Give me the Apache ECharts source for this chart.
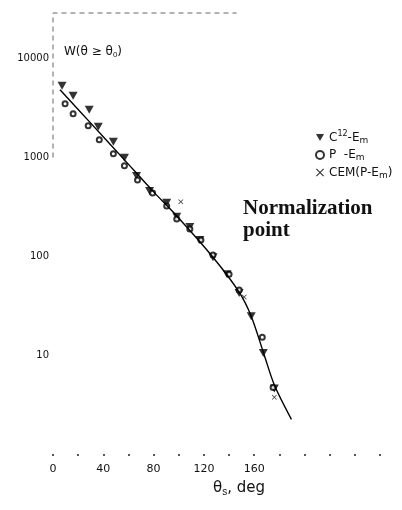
<!DOCTYPE html>
<html>
<head>
<meta charset="utf-8">
<script src="https://cdn.jsdelivr.net/npm/echarts@6/dist/echarts.min.js"></script>
<style>
  html, body { margin: 0; padding: 0; background: #fff; }
  #echarts { width: 402px; height: 510px; }
</style>
</head>
<body>
<div id="echarts"></div>
<script>
// data: [theta deg, W]
var c12Em = [[7.2,5320],[16,4220],[28.8,3040],[36,2050],[48,1440],[56.8,993],[66.4,652],[76.8,459],
    [90.4,348],[98.4,251],[108.8,198],[116.8,146],[127.2,98],[138.4,66],[148,42.5],[157.6,24.8],[167.2,10.5],[176,4.6]];
var pEm = [[9.6,3500],[16,2770],[28,2100],[36.8,1510],[48,1090],[56.8,824],[67.2,594],[79.2,438],
    [90.4,324],[98.4,239],[108.8,189],[117.6,146],[127.2,103],[140,66],[148,45.6],[166.4,15.2],[175,4.7]];
var cemPEm = [[101.6,356],[152,38.7],[176,3.75]];
var fitCurve = [[5.6,4850],[30,2230],[56.8,947],[80,449],[98.4,256],[127.2,98],[148,43.5],[157.6,24.8],[168,10],[176,5],[189.6,2.24]];
var frameLine = [[0,1000],[0,29000],[146,29000]];
var xTicks = [0,40,80,120,160];
var yTicks = [10,100,1000,10000];

var triDown = 'path://M0,0L10,0L5,9Z';
var cross = 'path://M0,1L1,0L5,4L9,0L10,1L6,5L10,9L9,10L5,6L1,10L0,9L4,5Z';

var myChart = echarts.init(document.getElementById('echarts'));
var option = {
    animation: false,
    backgroundColor: '#fff',
    grid: {left: 53, right: 22, top: 13, bottom: 56, containLabel: false},
    xAxis: {
        type: 'value', min: 0, max: 260, interval: 20,
        axisLine: {show: false},
        axisTick: {show: true, inside: false, length: 2, lineStyle: {color: '#222', width: 1.5}},
        splitLine: {show: false},
        axisLabel: {
            margin: 10, color: '#111', fontSize: 11, fontFamily: 'DejaVu Sans',
            formatter: function(v){ return xTicks.indexOf(v) >= 0 ? String(v) : ''; }
        }
    },
    yAxis: {
        type: 'log', logBase: 10, min: 1, max: 29000,
        axisLine: {show: false},
        axisTick: {show: false},
        splitLine: {show: false},
        axisLabel: {
            margin: 4, color: '#111', fontSize: 10, fontFamily: 'DejaVu Sans',
            formatter: function(v){ return yTicks.indexOf(Math.round(v)) >= 0 ? String(Math.round(v)) : ''; }
        }
    },
    legend: {
        orient: 'vertical', left: 310, top: 125, itemGap: 4,
        itemWidth: 8, itemHeight: 8, selectedMode: false,
        data: ['C12-Em', 'P -Em', 'CEM(P-Em)'],
        formatter: function(name){
            if (name === 'C12-Em') return 'C{sup|12}-E{sub|m}';
            if (name === 'P -Em') return 'P  -E{sub|m}';
            return 'CEM(P-E{sub|m})';
        },
        textStyle: {
            color: '#111', fontSize: 12, fontFamily: 'DejaVu Sans',
            rich: {
                sup: {fontSize: 8, padding: [0,0,7,0], color: '#111'},
                sub: {fontSize: 9, padding: [6,0,0,0], color: '#111'}
            }
        }
    },
    graphic: [
        {type: 'text', left: 64, top: 46, style: {
            text: 'W(θ ≥ θ{s|0})', fill: '#111', font: '12px DejaVu Sans',
            rich: {s: {fontSize: 8, padding: [5,0,0,0], fill: '#111'}}
        }},
        {type: 'text', left: 243, top: 198, style: {
            text: 'Normalization\npoint', fill: '#111', font: 'bold 21px Liberation Serif', lineHeight: 22
        }},
        {type: 'text', left: 213, top: 481, style: {
            text: 'θ{s|s}, deg', fill: '#111', font: '15px DejaVu Sans',
            rich: {s: {fontSize: 10, padding: [8,0,0,0], fill: '#111'}}
        }}
    ],
    series: [
        {
            name: 'frame', type: 'line', data: frameLine, symbol: 'none', silent: true, clip: false,
            lineStyle: {color: '#666', width: 1, type: [5, 4]}
        },
        {
            name: 'fit', type: 'line', data: fitCurve, symbol: 'none', smooth: 0.3, silent: true,
            lineStyle: {color: '#000', width: 1.4}
        },
        {
            name: 'C12-Em', type: 'scatter', data: c12Em, symbol: triDown, symbolSize: [9, 8],
            itemStyle: {color: '#000'}
        },
        {
            name: 'P -Em', type: 'scatter', data: pEm, symbol: 'emptyCircle', symbolSize: 5,
            itemStyle: {color: '#000', borderColor: '#000', borderWidth: 1.4}
        },
        {
            name: 'CEM(P-Em)', type: 'scatter', data: cemPEm, symbol: cross, symbolSize: 5,
            itemStyle: {color: '#000'}
        }
    ]
};
myChart.setOption(option);
</script>
</body>
</html>
